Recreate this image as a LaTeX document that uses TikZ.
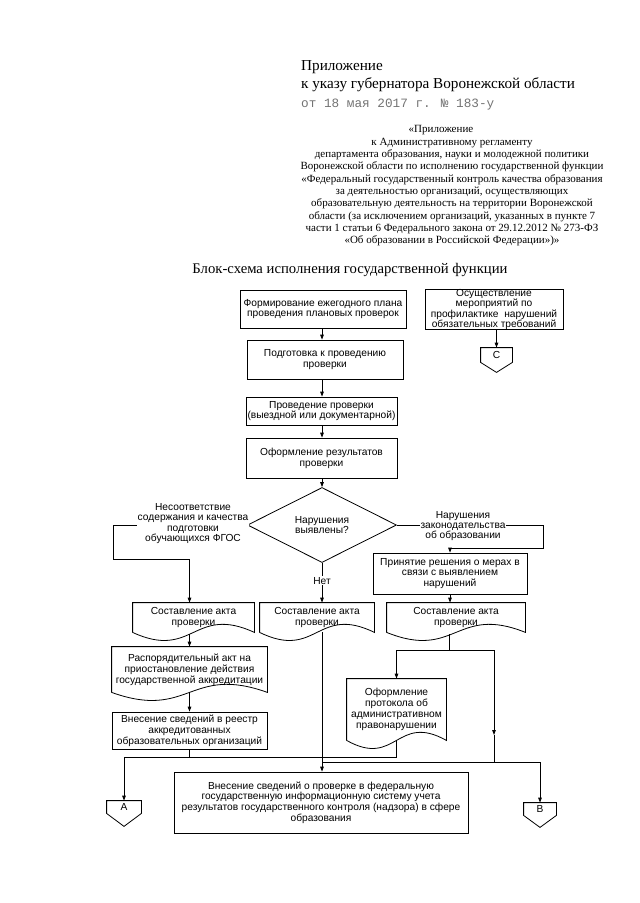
\documentclass[tikz,border=0pt]{standalone}
\usepackage{fontspec}
\setmainfont{Liberation Serif}
\newfontfamily\arial{Liberation Sans}
\newfontfamily\mono{Liberation Mono}
\usetikzlibrary{arrows.meta,calc,shapes.geometric}

\newcommand\docline[1]{\draw[ln] (#1.south west) -- (#1.north west) -- (#1.north east) -- (#1.south east)
  .. controls ($(#1.south east)!0.5!(#1.south west)+(0,-28)$) and ($(#1.south east)!0.5!(#1.south west)+(0,28)$) .. (#1.south west);}
\newcommand\offpage[2]{\draw[ln] (#1.north west) -- (#1.north east) -- (#1.south east) -- ($(#1.south)+(0,#2)$) -- (#1.south west) -- cycle;}

\begin{document}
\begin{tikzpicture}[x=1pt,y=-1pt,>={Triangle[length=5pt,width=3.6pt]},
  ln/.style={line width=0.8pt},
  arr/.style={ln,->},
  box/.style={draw,ln,inner sep=0,align=center,font=\arial\fontsize{10.2}{10.8}\selectfont},
  doc/.style={box,draw=none},
  lbl/.style={fill=white,inner sep=1pt,align=center,font=\arial\fontsize{10.2}{10.3}\selectfont}]
\useasboundingbox (0,0) rectangle (640,903);
\node[anchor=west,align=left,inner sep=0,font=\fontsize{15.2}{18}\selectfont] (app) at (301,76) {Приложение\\к указу губернатора Воронежской области};
\node[anchor=west,inner sep=0,text=black!55,font=\mono\fontsize{12.7}{14}\selectfont] (stamp) at (301,105) {от 18 мая 2017 г. № 183-у};
\node[align=center,inner sep=0,font=\fontsize{11}{12.33}\selectfont] (reg) at (452,186) {«Приложение\hspace*{22pt}\\к Административному регламенту\hspace*{46pt}\\департамента образования, науки и молодежной политики\\Воронежской области по исполнению государственной функции\\«Федеральный государственный контроль качества образования\\за деятельностью организаций, осуществляющих\\образовательную деятельность на территории Воронежской\\области (за исключением организаций, указанных в пункте 7\\части 1 статьи 6 Федерального закона от 29.12.2012 № 273-ФЗ\\«Об образовании в Российской Федерации»)»};
\node[inner sep=0,font=\fontsize{14.7}{18}\selectfont] (title) at (350,270) {Блок-схема исполнения государственной функции};

\node[box,minimum width=166pt,minimum height=38pt] (plan) at (323,309) {Формирование ежегодного плана\\проведения плановых проверок};
\node[box,minimum width=138pt,minimum height=40pt,font=\arial\fontsize{10.2}{10.3}\selectfont] (prof) at (494,309.5) {Осуществление\\мероприятий по\\профилактике~ нарушений\\обязательных требований};
\node[box,minimum width=156pt,minimum height=39pt] (prep) at (325,359.5) {Подготовка к проведению\\проверки};
\node[box,minimum width=151pt,minimum height=28pt] (visit) at (321.5,411) {Проведение проверки\\(выездной или документарной)};
\node[box,minimum width=151pt,minimum height=40pt] (res) at (321.5,458) {Оформление результатов\\проверки};
\node[box,shape=diamond,aspect=2,minimum width=149pt,minimum height=75pt] (dia) at (322,525) {Нарушения\\выявлены?};
\node[box,minimum width=154pt,minimum height=41pt] (decide) at (450,573.5) {Принятие решения о мерах в\\связи с выявлением\\нарушений};
\node[doc,minimum width=121pt,minimum height=29pt] (actL) at (193.5,617.5) {Составление акта\\проверки};
\node[doc,minimum width=114pt,minimum height=29pt] (actM) at (317,617.5) {Составление акта\\проверки};
\node[doc,minimum width=138pt,minimum height=29pt] (actR) at (456,617.5) {Составление акта\\проверки};
\node[doc,minimum width=155pt,minimum height=45pt] (ord) at (189.5,669.5) {Распорядительный акт на\\приостановление действия\\государственной аккредитации};
\node[box,minimum width=155pt,minimum height=37pt] (reestr) at (189.5,730.5) {Внесение сведений в реестр\\аккредитованных\\образовательных организаций};
\node[doc,minimum width=99pt,minimum height=61pt] (prot) at (396.5,709.5) {Оформление\\протокола об\\административном\\правонарушении};
\node[box,minimum width=294pt,minimum height=61pt] (fin) at (321,802.5) {Внесение сведений о проверке в федеральную\\государственную информационную систему учета\\результатов государственного контроля (надзора) в сфере\\образования};
\node[doc,minimum width=31pt,minimum height=14pt] (C) at (496.5,355) {C};
\node[doc,minimum width=34pt,minimum height=12pt] (A) at (124,807) {A};
\node[doc,minimum width=32pt,minimum height=12pt] (B) at (540,809) {B};
\docline{actL}
\docline{actM}
\docline{actR}
\docline{ord}
\docline{prot}
\offpage{C}{10}
\offpage{A}{13}
\offpage{B}{12}

\coordinate (lt) at (113,559);
\coordinate (rt) at (543,548);
\coordinate (jl) at (124,757);
\coordinate (sp) at (449,650);
\coordinate (rb1) at (494,735);
\coordinate (rb) at (494,762);
\coordinate (jm) at (322,762);
\draw[arr] (plan.south -| dia) -- (prep.north -| dia);
\draw[arr] (prep.south -| dia) -- (visit.north -| dia);
\draw[arr] (visit.south -| dia) -- (res.north -| dia);
\draw[arr] (res.south -| dia) -- (dia.north);
\draw[arr] (prof.south -| C) -- (C.north);
\draw[arr] (dia.west) -| (lt) -| (actL.north -| ord);
\draw[arr] (dia.east) -| (rt) -| (decide.north);
\draw[arr] (dia.south) -- (dia.south |- actM.north) node[lbl,pos=0.45] (no) {Нет};
\draw[arr] (decide.south) -- (decide.south |- actR.north);
\draw[arr] ([yshift=-2pt]actL.south -| ord) -- (ord.north);
\draw[arr] (ord.south) -- (reestr.north);
\draw[arr] (reestr.south) |- (jl) -- (A.north);
\draw[ln] (prot.south) |- (jl);
\draw[ln] ([yshift=-2pt]actR.south -| sp) -- (sp);
\draw[arr] (sp) -| (prot.north);
\draw[arr] (sp) -| (rb1);
\draw[ln] (rb1) -- (rb);
\draw[arr] (actM.south -| dia) -- (fin.north -| dia);
\draw[arr] (jm) -| (B.north);
\node[lbl] (nc) at (193,523.5) {Несоответствие\\содержания и качества\\подготовки\\обучающихся ФГОС};
\node[lbl] (viol) at (463,526) {Нарушения\\законодательства\\об образовании};
\end{tikzpicture}
\end{document}
